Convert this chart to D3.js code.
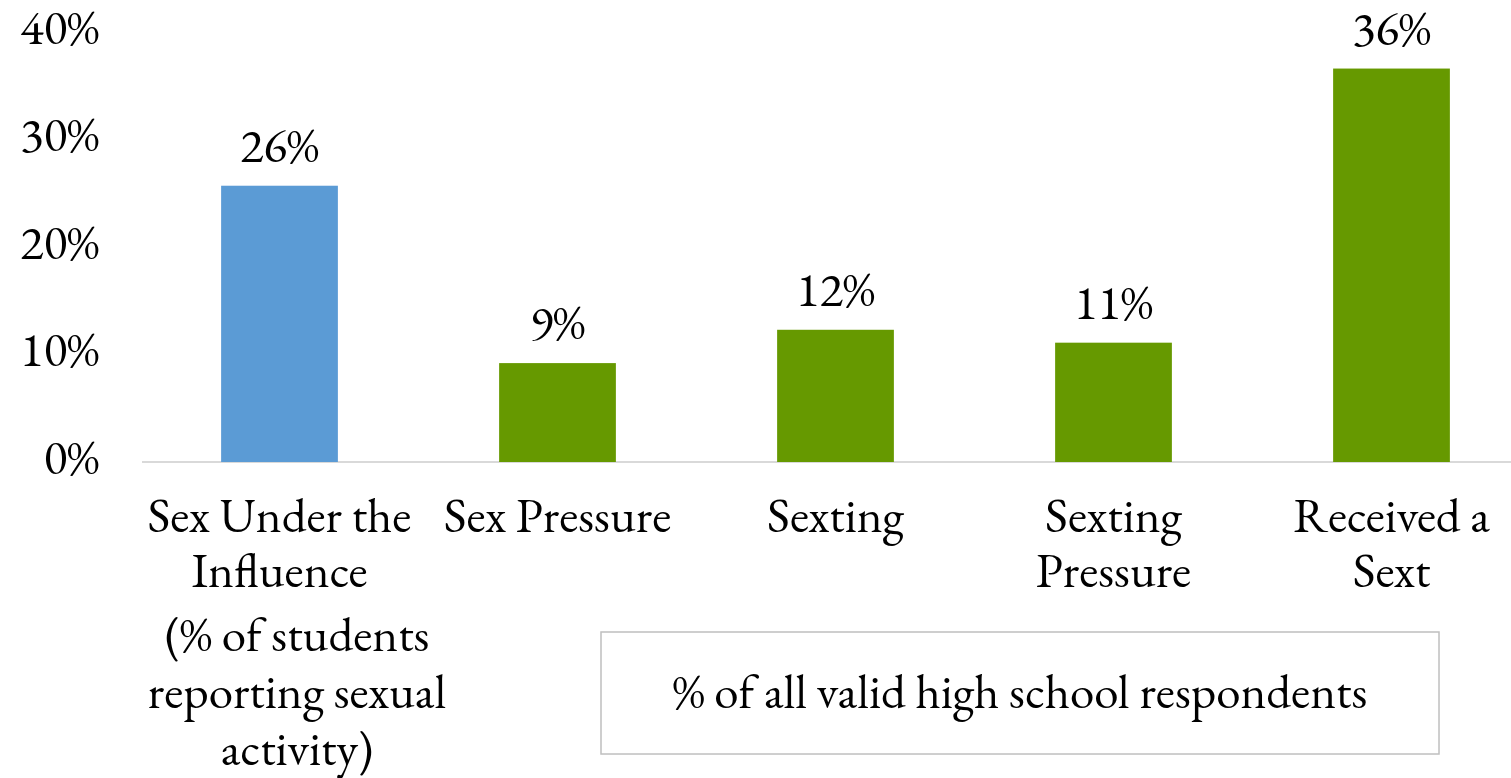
<!DOCTYPE html>
<html>
<head>
<meta charset="utf-8">
<script src="https://cdn.jsdelivr.net/npm/d3@7"></script>
<style>
  body { margin: 0; background: #fff; }
</style>
</head>
<body>
<svg id="chart"></svg>
<script>
// data
var categories = ['Sex Under the|Influence', 'Sex Pressure', 'Sexting', 'Sexting|Pressure', 'Received a|Sext'];
var values = [0.257, 0.092, 0.123, 0.111, 0.366];
var valueLabels = ['26%', '9%', '12%', '11%', '36%'];
var barColors = ['#5b9bd5', '#669900', '#669900', '#669900', '#669900'];
var yTicks = [0, 0.1, 0.2, 0.3, 0.4];
var noteLeft = ['(% of students', 'reporting sexual', 'activity)'];
var noteBox = '% of all valid high school respondents';

var W = 1511, H = 778;
var FONT = '"EB Garamond", "Liberation Serif", serif';
var FS = 49;
var svg = d3.select('#chart').attr('width', W).attr('height', H);

var x = d3.scaleBand()
    .domain(categories)
    .range([140.5, 1530.5])
    .paddingInner(0.58)
    .paddingOuter(0.29);

var y = d3.scaleLinear()
    .domain([0, 0.4])
    .range([462, 32]);

// y axis labels only
var yAxis = d3.axisLeft(y)
    .tickValues(yTicks)
    .tickSize(0)
    .tickPadding(0)
    .tickFormat(d3.format('.0%'));

var yg = svg.append('g')
    .attr('transform', 'translate(99,0)')
    .call(yAxis)
    .attr('font-family', FONT)
    .attr('font-size', FS);
yg.select('.domain').remove();
yg.selectAll('text')
    .attr('dy', '11')
    .attr('fill', '#000');

// baseline
svg.append('line')
    .attr('x1', 142).attr('x2', W)
    .attr('y1', y(0)).attr('y2', y(0))
    .attr('stroke', '#d9d9d9')
    .attr('stroke-width', 2);

// bars
svg.selectAll('.bar')
    .data(categories)
    .enter()
    .append('rect')
    .attr('class', 'bar')
    .attr('x', d => x(d))
    .attr('y', (d, i) => y(values[i]))
    .attr('width', x.bandwidth())
    .attr('height', (d, i) => y(0) - y(values[i]))
    .attr('fill', (d, i) => barColors[i]);

// value labels
svg.selectAll('.vlabel')
    .data(categories)
    .enter()
    .append('text')
    .attr('class', 'vlabel')
    .attr('x', d => x(d) + x.bandwidth() / 2)
    .attr('y', (d, i) => y(values[i]) - 24)
    .attr('text-anchor', 'middle')
    .attr('font-family', FONT)
    .attr('font-size', FS)
    .text((d, i) => valueLabels[i]);

// category labels
var cats = svg.selectAll('.cat')
    .data(categories)
    .enter()
    .append('text')
    .attr('class', 'cat')
    .attr('text-anchor', 'middle')
    .attr('font-family', FONT)
    .attr('font-size', FS);

cats.selectAll('tspan')
    .data(d => d.split('|').map(t => ({ t: t, c: d })))
    .enter()
    .append('tspan')
    .attr('x', d => x(d.c) + x.bandwidth() / 2)
    .attr('y', (d, i) => 532 + i * 55)
    .text(d => d.t);

// note under first category
svg.append('text')
    .attr('text-anchor', 'middle')
    .attr('font-family', FONT)
    .attr('font-size', FS)
    .selectAll('tspan')
    .data(noteLeft)
    .enter()
    .append('tspan')
    .attr('x', 297)
    .attr('y', (d, i) => 651 + i * 57)
    .text(d => d);

// boxed note
svg.append('rect')
    .attr('x', 601).attr('y', 632)
    .attr('width', 838).attr('height', 122)
    .attr('fill', 'none')
    .attr('stroke', '#bfbfbf')
    .attr('stroke-width', 1.5);

svg.append('text')
    .attr('x', 1020).attr('y', 708)
    .attr('text-anchor', 'middle')
    .attr('font-family', FONT)
    .attr('font-size', FS)
    .text(noteBox);
</script>
</body>
</html>
